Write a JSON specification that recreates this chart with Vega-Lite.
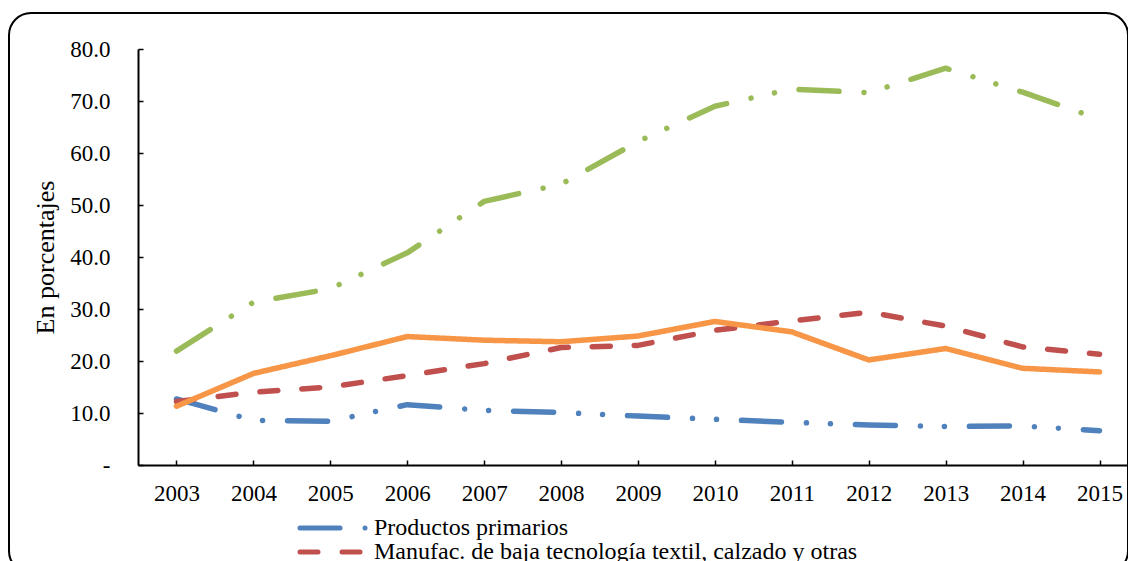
{
  "$schema": "https://vega.github.io/schema/vega-lite/v6.json",
  "width": 1119,
  "height": 560,
  "autosize": "none",
  "padding": {"left": 9, "top": 13, "right": 0, "bottom": 0},
  "background": "white",
  "config": {
    "view": {"stroke": "black", "strokeWidth": 2, "cornerRadius": 22},
    "font": "Liberation Serif",
    "axis": {
      "labelFont": "Liberation Serif",
      "titleFont": "Liberation Serif",
      "labelColor": "black",
      "titleColor": "black",
      "domainColor": "black",
      "tickColor": "black",
      "grid": false
    },
    "legend": {"labelFont": "Liberation Serif", "labelColor": "black"}
  },
  "data": {
    "values": [
      {"anio": "2003", "serie": "Productos primarios", "valor": 12.7},
      {"anio": "2004", "serie": "Productos primarios", "valor": 8.6},
      {"anio": "2005", "serie": "Productos primarios", "valor": 8.4},
      {"anio": "2006", "serie": "Productos primarios", "valor": 11.6},
      {"anio": "2007", "serie": "Productos primarios", "valor": 10.5},
      {"anio": "2008", "serie": "Productos primarios", "valor": 10.1},
      {"anio": "2009", "serie": "Productos primarios", "valor": 9.4},
      {"anio": "2010", "serie": "Productos primarios", "valor": 8.8},
      {"anio": "2011", "serie": "Productos primarios", "valor": 8.2},
      {"anio": "2012", "serie": "Productos primarios", "valor": 7.7},
      {"anio": "2013", "serie": "Productos primarios", "valor": 7.4},
      {"anio": "2014", "serie": "Productos primarios", "valor": 7.5},
      {"anio": "2015", "serie": "Productos primarios", "valor": 6.6},
      {"anio": "2003", "serie": "Manufac. de baja tecnología textil, calzado y otras", "valor": 12.2},
      {"anio": "2004", "serie": "Manufac. de baja tecnología textil, calzado y otras", "valor": 14.0},
      {"anio": "2005", "serie": "Manufac. de baja tecnología textil, calzado y otras", "valor": 15.0},
      {"anio": "2006", "serie": "Manufac. de baja tecnología textil, calzado y otras", "valor": 17.2},
      {"anio": "2007", "serie": "Manufac. de baja tecnología textil, calzado y otras", "valor": 19.5},
      {"anio": "2008", "serie": "Manufac. de baja tecnología textil, calzado y otras", "valor": 22.6},
      {"anio": "2009", "serie": "Manufac. de baja tecnología textil, calzado y otras", "valor": 23.0},
      {"anio": "2010", "serie": "Manufac. de baja tecnología textil, calzado y otras", "valor": 25.9},
      {"anio": "2011", "serie": "Manufac. de baja tecnología textil, calzado y otras", "valor": 27.7},
      {"anio": "2012", "serie": "Manufac. de baja tecnología textil, calzado y otras", "valor": 29.4},
      {"anio": "2013", "serie": "Manufac. de baja tecnología textil, calzado y otras", "valor": 26.7},
      {"anio": "2014", "serie": "Manufac. de baja tecnología textil, calzado y otras", "valor": 22.7},
      {"anio": "2015", "serie": "Manufac. de baja tecnología textil, calzado y otras", "valor": 21.3},
      {"anio": "2003", "serie": "Manufac. de tecnología media y alta", "valor": 21.9},
      {"anio": "2004", "serie": "Manufac. de tecnología media y alta", "valor": 31.3},
      {"anio": "2005", "serie": "Manufac. de tecnología media y alta", "valor": 33.9},
      {"anio": "2006", "serie": "Manufac. de tecnología media y alta", "valor": 40.8},
      {"anio": "2007", "serie": "Manufac. de tecnología media y alta", "valor": 50.7},
      {"anio": "2008", "serie": "Manufac. de tecnología media y alta", "valor": 54.0},
      {"anio": "2009", "serie": "Manufac. de tecnología media y alta", "valor": 62.2},
      {"anio": "2010", "serie": "Manufac. de tecnología media y alta", "valor": 69.0},
      {"anio": "2011", "serie": "Manufac. de tecnología media y alta", "valor": 72.3},
      {"anio": "2012", "serie": "Manufac. de tecnología media y alta", "valor": 71.6},
      {"anio": "2013", "serie": "Manufac. de tecnología media y alta", "valor": 76.3},
      {"anio": "2014", "serie": "Manufac. de tecnología media y alta", "valor": 71.7},
      {"anio": "2015", "serie": "Manufac. de tecnología media y alta", "valor": 66.5},
      {"anio": "2003", "serie": "Manufac. basadas en recursos naturales", "valor": 11.3},
      {"anio": "2004", "serie": "Manufac. basadas en recursos naturales", "valor": 17.6},
      {"anio": "2005", "serie": "Manufac. basadas en recursos naturales", "valor": 21.0},
      {"anio": "2006", "serie": "Manufac. basadas en recursos naturales", "valor": 24.7},
      {"anio": "2007", "serie": "Manufac. basadas en recursos naturales", "valor": 24.0},
      {"anio": "2008", "serie": "Manufac. basadas en recursos naturales", "valor": 23.7},
      {"anio": "2009", "serie": "Manufac. basadas en recursos naturales", "valor": 24.8},
      {"anio": "2010", "serie": "Manufac. basadas en recursos naturales", "valor": 27.6},
      {"anio": "2011", "serie": "Manufac. basadas en recursos naturales", "valor": 25.6},
      {"anio": "2012", "serie": "Manufac. basadas en recursos naturales", "valor": 20.2},
      {"anio": "2013", "serie": "Manufac. basadas en recursos naturales", "valor": 22.4},
      {"anio": "2014", "serie": "Manufac. basadas en recursos naturales", "valor": 18.6},
      {"anio": "2015", "serie": "Manufac. basadas en recursos naturales", "valor": 17.9}
    ]
  },
  "mark": {"type": "line", "strokeWidth": 5.5, "strokeCap": "round", "strokeJoin": "round"},
  "encoding": {
    "x": {
      "field": "anio",
      "type": "ordinal",
      "sort": null,
      "scale": {"type": "point", "range": [129, 1129], "padding": 0.5},
      "axis": {
        "title": null,
        "labelAngle": 0,
        "labelFontSize": 23,
        "offset": -108,
        "tickSize": -5,
        "tickWidth": 1.5,
        "domainWidth": 2,
        "labelPadding": 22
      }
    },
    "y": {
      "field": "valor",
      "type": "quantitative",
      "scale": {"domain": [0, 80], "range": [452, 36], "nice": false, "zero": true},
      "axis": {
        "title": "En porcentajes",
        "titleFontSize": 26,
        "titleFontWeight": "normal",
        "titlePadding": 11,
        "values": [0, 10, 20, 30, 40, 50, 60, 70, 80],
        "labelExpr": "datum.value == 0 ? '-' : format(datum.value, '.1f')",
        "labelFontSize": 23,
        "offset": -129,
        "tickSize": -5,
        "tickWidth": 1.5,
        "domainWidth": 2,
        "labelPadding": 33,
        "encode": {
          "labels": {"update": {"dx": {"signal": "datum.value == 0 ? -12 : 0"}}}
        }
      }
    },
    "color": {
      "field": "serie",
      "type": "nominal",
      "scale": {
        "domain": ["Productos primarios", "Manufac. de baja tecnología textil, calzado y otras", "Manufac. de tecnología media y alta", "Manufac. basadas en recursos naturales"],
        "range": ["#4F81BD", "#C0504D", "#9BBB59", "#F79646"]
      },
      "legend": {
        "title": null,
        "orient": "none",
        "legendX": 312,
        "legendY": 503,
        "values": ["Productos primarios", "Manufac. de baja tecnología textil, calzado y otras"],
        "symbolType": "M-4,0H4",
        "symbolSize": 272,
        "symbolStrokeWidth": 5,
        "labelFontSize": 24,
        "labelOffset": 29,
        "rowPadding": 0,
        "labelLimit": 0,
        "encode": {"symbols": {"update": {"strokeCap": {"value": "round"}}}}
      }
    },
    "strokeDash": {
      "field": "serie",
      "type": "nominal",
      "scale": {
        "domain": ["Productos primarios", "Manufac. de baja tecnología textil, calzado y otras", "Manufac. de tecnología media y alta", "Manufac. basadas en recursos naturales"],
        "range": [[40, 25, 0.01, 24, 0.01, 25], [18, 24], [40, 25, 0.01, 24, 0.01, 25], [1, 0]]
      },
      "legend": {
        "title": null,
        "orient": "none",
        "legendX": 312,
        "legendY": 503,
        "values": ["Productos primarios", "Manufac. de baja tecnología textil, calzado y otras"],
        "symbolType": "M-4,0H4",
        "symbolSize": 272,
        "symbolStrokeWidth": 5,
        "labelFontSize": 24,
        "labelOffset": 29,
        "rowPadding": 0,
        "labelLimit": 0,
        "encode": {"symbols": {"update": {"strokeCap": {"value": "round"}}}}
      }
    }
  }
}
